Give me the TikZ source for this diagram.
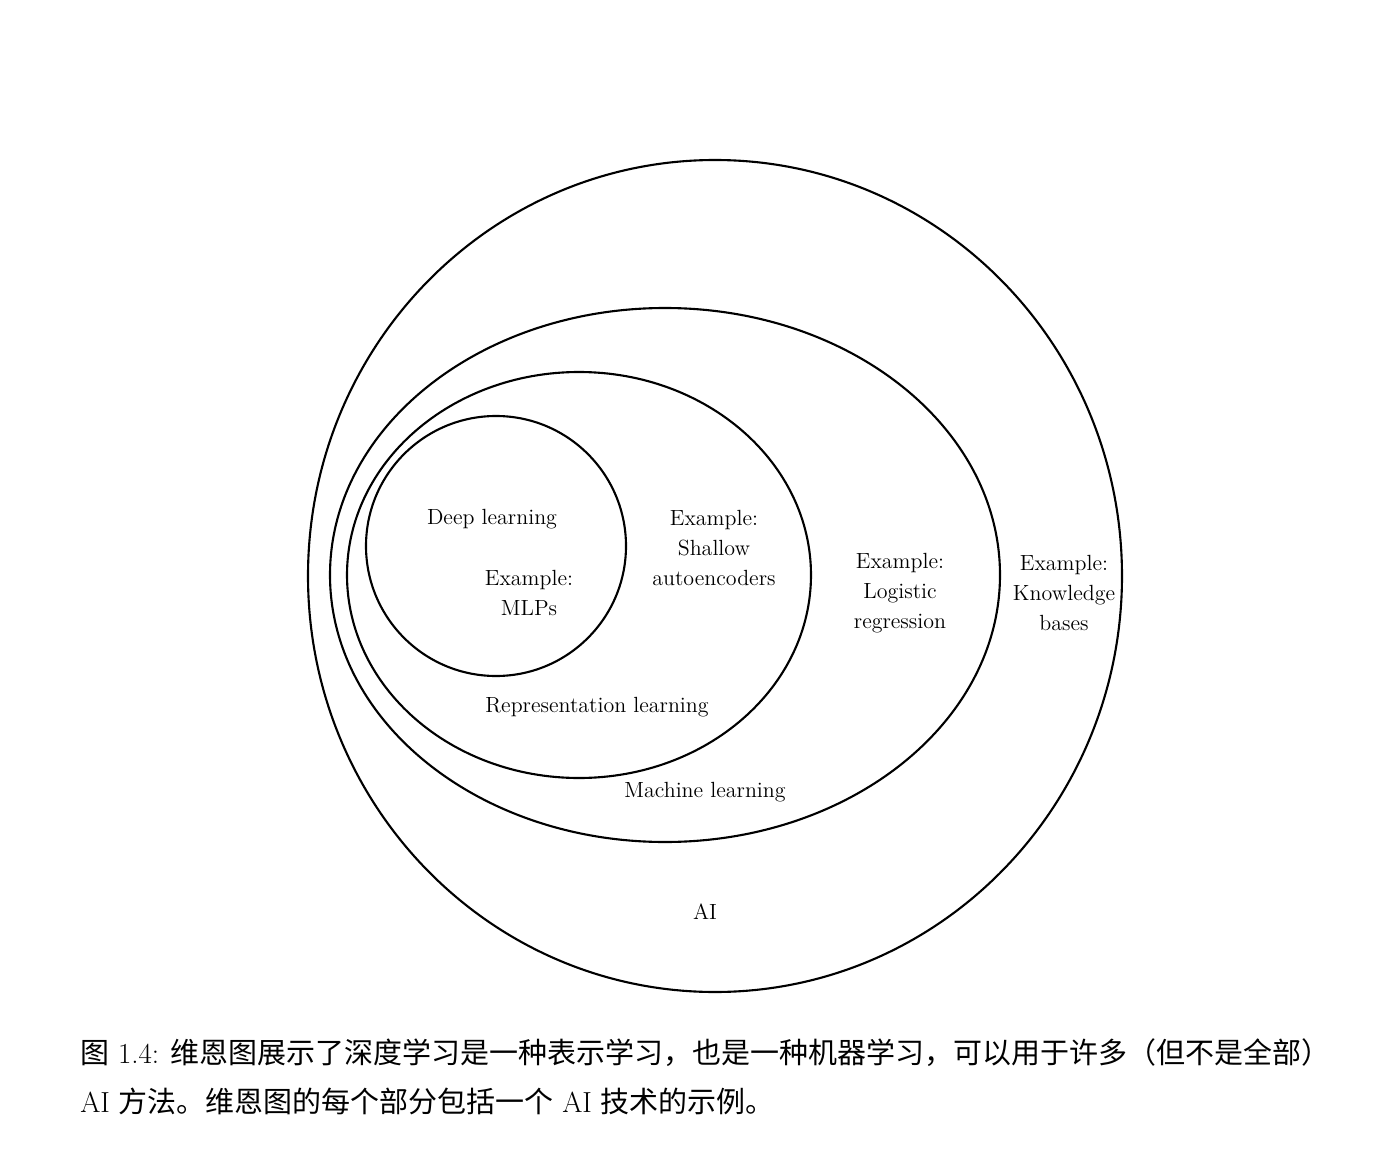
\documentclass[tikz,border=0pt]{standalone}
\usepackage{fontspec}
\newfontfamily\cjk{Noto Sans CJK SC}
\begin{document}
\begin{tikzpicture}[x={(0.02cm,0)},y={(0,-0.02cm)},
  set/.style={line width=1.2pt},
  lbl/.style={align=center,font=\fontsize{12.5}{17}\selectfont,inner sep=0pt},
  captext/.style={anchor=west,font=\fontsize{16.5}{22}\selectfont,inner sep=0pt}]
\useasboundingbox (0,0) rectangle (1384,1176);
% sets
\draw[set] (715,576) ellipse [x radius=407, y radius=416];
\draw[set] (665,575) ellipse [x radius=335, y radius=267];
\draw[set] (579,575) ellipse [x radius=232, y radius=203];
\draw[set] (496,546) ellipse [x radius=130, y radius=130];
% labels
\node[lbl] (dl) at (492,519) {Deep learning};
\node[lbl] (mlp) at (529,593) {Example:\\MLPs};
\node[lbl] (sae) at (714,548) {Example:\\Shallow\\autoencoders};
\node[lbl] (lr) at (900,593) {Example:\\Logistic\\regression};
\node[lbl] (kb) at (1064,593) {Example:\\Knowledge\\bases};
\node[lbl] (rl) at (597,707) {Representation learning};
\node[lbl] (ml) at (705,792) {Machine learning};
\node[lbl] (ai) at (705,912) {AI};
% caption
\node[captext] (cap1) at (80,1053) {{\cjk 图} 1.4: {\cjk 维恩图展示了深度学习是一种表示学习，也是一种机器学习，可以用于许多（但不是全部）}};
\node[captext] (cap2) at (80,1101) {AI {\cjk 方法。维恩图的每个部分包括一个} AI {\cjk 技术的示例。}};
\end{tikzpicture}
\end{document}
